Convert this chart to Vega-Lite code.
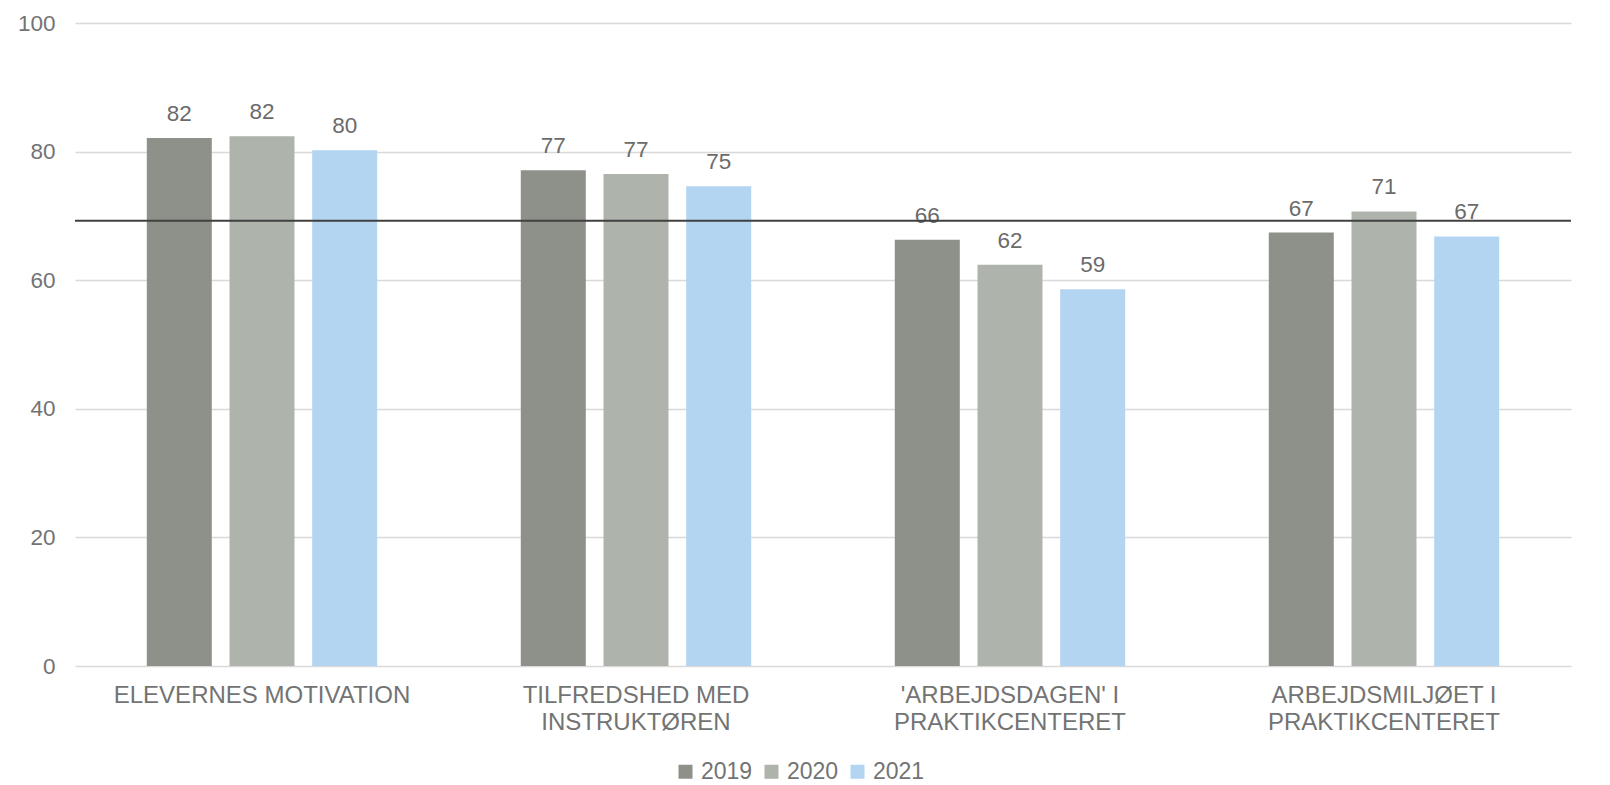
{
  "$schema": "https://vega.github.io/schema/vega-lite/v6.json",
  "width": 1496,
  "height": 643,
  "autosize": {"type": "none"},
  "padding": {"left": 75, "top": 23, "right": 39, "bottom": 119},
  "background": "white",
  "config": {
    "font": "Liberation Sans",
    "view": {"stroke": null},
    "axis": {"labelFont": "Liberation Sans", "labelColor": "#737373"},
    "legend": {"labelFont": "Liberation Sans"}
  },
  "datasets": {
    "bars": [
      {"kategori": "ELEVERNES MOTIVATION", "aar": "2019", "vaerdi": 82.1},
      {"kategori": "ELEVERNES MOTIVATION", "aar": "2020", "vaerdi": 82.4},
      {"kategori": "ELEVERNES MOTIVATION", "aar": "2021", "vaerdi": 80.2},
      {"kategori": "TILFREDSHED MED|INSTRUKTØREN", "aar": "2019", "vaerdi": 77.1},
      {"kategori": "TILFREDSHED MED|INSTRUKTØREN", "aar": "2020", "vaerdi": 76.5},
      {"kategori": "TILFREDSHED MED|INSTRUKTØREN", "aar": "2021", "vaerdi": 74.6},
      {"kategori": "'ARBEJDSDAGEN' I|PRAKTIKCENTERET", "aar": "2019", "vaerdi": 66.3},
      {"kategori": "'ARBEJDSDAGEN' I|PRAKTIKCENTERET", "aar": "2020", "vaerdi": 62.4},
      {"kategori": "'ARBEJDSDAGEN' I|PRAKTIKCENTERET", "aar": "2021", "vaerdi": 58.6},
      {"kategori": "ARBEJDSMILJØET I|PRAKTIKCENTERET", "aar": "2019", "vaerdi": 67.4},
      {"kategori": "ARBEJDSMILJØET I|PRAKTIKCENTERET", "aar": "2020", "vaerdi": 70.7},
      {"kategori": "ARBEJDSMILJØET I|PRAKTIKCENTERET", "aar": "2021", "vaerdi": 66.8}
    ],
    "ref": [{"niveau": 69.25}]
  },
  "layer": [
    {
      "data": {"name": "bars"},
      "mark": {"type": "bar"},
      "encoding": {
        "x": {
          "field": "kategori", "type": "nominal", "sort": null,
          "scale": {"paddingInner": 0, "paddingOuter": 0},
          "axis": {
            "title": null, "labelAngle": 0, "ticks": false, "domain": false,
            "labelExpr": "split(datum.label, '|')", "labelLimit": 0,
            "labelFontSize": 24, "labelLineHeight": 27, "labelPadding": 17,
            "labelBaseline": "top"
          }
        },
        "xOffset": {
          "field": "aar", "type": "nominal",
          "scale": {"paddingInner": 0.214, "paddingOuter": 0.868}
        },
        "y": {
          "field": "vaerdi", "type": "quantitative",
          "scale": {"domain": [0, 100], "nice": false},
          "axis": {
            "title": null, "values": [0, 20, 40, 60, 80, 100], "ticks": false,
            "domain": false, "labelFontSize": 22.5, "labelPadding": 20,
            "gridColor": "#d9d9d9", "gridWidth": 1.5
          }
        },
        "color": {
          "field": "aar", "type": "nominal",
          "scale": {"domain": ["2019", "2020", "2021"], "range": ["#8e9189", "#aeb3ab", "#b3d5f1"]},
          "legend": {
            "title": null, "orient": "none", "direction": "horizontal",
            "legendX": 599, "legendY": 737, "symbolType": "square",
            "symbolSize": 196, "symbolStrokeWidth": 0, "labelFontSize": 23,
            "labelColor": "#737373", "labelOffset": 4, "columnPadding": 7,
            "padding": 0
          }
        }
      }
    },
    {
      "data": {"name": "bars"},
      "mark": {"type": "text", "baseline": "alphabetic", "dy": -17, "fontSize": 22.5, "color": "#6b6b6b"},
      "encoding": {
        "x": {"field": "kategori", "type": "nominal", "sort": null},
        "xOffset": {"field": "aar", "type": "nominal"},
        "y": {"field": "vaerdi", "type": "quantitative"},
        "text": {"field": "vaerdi", "type": "quantitative", "format": ".0f"}
      }
    },
    {
      "data": {"name": "ref"},
      "mark": {"type": "rule", "color": "#404040", "strokeWidth": 2},
      "encoding": {
        "y": {"field": "niveau", "type": "quantitative"}
      }
    }
  ]
}
